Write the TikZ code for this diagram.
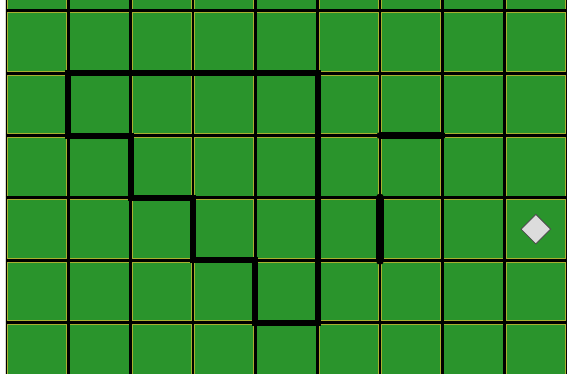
\documentclass[tikz,border=0pt]{standalone}
\usetikzlibrary{shapes.geometric}
\definecolor{grass}{RGB}{42,148,44}
\definecolor{edge}{RGB}{168,176,48}
\definecolor{stone}{RGB}{220,220,220}
\begin{document}
\begin{tikzpicture}[x=2.2cm,y=2.2cm]
	\useasboundingbox (-0.096,0.183) rectangle (9,6.176);
	\begin{scope}
		\clip (0,0.183) rectangle (9,6.176);
		\fill[grass] (0,0) rectangle (9,7);
		\foreach \i in {0,...,9} \draw[edge,line width=4pt] (\i,0) -- (\i,7);
		\foreach \j in {0,...,7} \draw[edge,line width=4.5pt] (0,\j) -- (9,\j);
		\foreach \i in {0,...,9} \draw[line width=2.6pt] (\i,0) -- (\i,7);
		\foreach \j in {0,...,7} \draw[line width=3pt] (0,\j) -- (9,\j);
	\end{scope}
	\draw[line width=6pt] (1,4) -- (1,5) -- (5,5) -- (5,1) -- (4,1) -- (4,2) -- (3,2) -- (3,3) -- (2,3) -- (2,4) -- cycle;
	\draw[line width=7pt,line cap=round] (6,4) -- (7,4);
	\draw[line width=9pt,line cap=round] (6,3) -- (6,2);
	\node[diamond,fill=stone,draw=black!70,line width=0.8pt,inner sep=0pt,minimum width=30pt,minimum height=30pt] (goal) at (8.5,2.5) {};
\end{tikzpicture}
\end{document}
